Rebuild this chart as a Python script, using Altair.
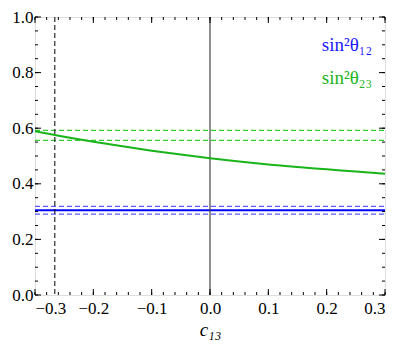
import altair as alt
import pandas as pd

# green curve sin^2 theta_23 vs c13
c13 = [-0.3, -0.25, -0.2, -0.15, -0.1, -0.05, 0.0, 0.05, 0.1, 0.15, 0.2, 0.25, 0.3]
s23 = [0.589, 0.569, 0.551, 0.535, 0.519, 0.505, 0.492, 0.480, 0.469, 0.460, 0.452, 0.444, 0.436]
# blue constant sin^2 theta_12
s12_central = 0.305
s12_band = [0.291, 0.319]
s23_band = [0.556, 0.592]
vline_dashed = -0.266
vline_solid = 0.0

x_major = [-0.3, -0.2, -0.1, 0.0, 0.1, 0.2, 0.3]
x_minor = [round(-0.3 + 0.02 * i, 2) for i in range(31)]
y_major = [0.0, 0.2, 0.4, 0.6, 0.8, 1.0]
y_minor = [round(0.05 * i, 2) for i in range(21)]

W, H = 350, 278
FONT = "Liberation Serif"
xs = alt.Scale(domain=[-0.3, 0.3], nice=False, zero=False)
ys = alt.Scale(domain=[0, 1], nice=False, zero=False)

curve_df = pd.DataFrame({"c13": c13, "s23": s23})
base = alt.Chart(curve_df)

xaxis = alt.Axis(values=x_major, format=".1f", ticks=False, domain=False, grid=False,
                 labelFont=FONT, labelFontSize=17, labelColor="black", labelPadding=5,
                 title="c₁₃", titleFont=FONT, titleFontSize=19, titleFontStyle="italic",
                 titleFontWeight="normal", titleColor="black", titlePadding=4)
yaxis = alt.Axis(values=y_major, format=".1f", ticks=False, domain=False, grid=False,
                 labelFont=FONT, labelFontSize=17, labelColor="black", labelPadding=2,
                 title=None)

green = base.mark_line(color="#19b419", strokeWidth=2, interpolate="monotone").encode(
    x=alt.X("c13:Q", scale=xs, axis=xaxis),
    y=alt.Y("s23:Q", scale=ys, axis=yaxis),
)

hdf = pd.DataFrame({
    "y": s12_band + s23_band,
    "c": ["#5a5aff", "#5a5aff", "#33cc33", "#33cc33"],
})
hdash = alt.Chart(hdf).mark_rule(strokeWidth=1.2, strokeDash=[5, 3]).encode(
    y=alt.Y("y:Q", scale=ys), x=alt.value(0), x2=alt.value(W),
    color=alt.Color("c:N", scale=None),
)
blue = alt.Chart(pd.DataFrame({"y": [s12_central]})).mark_rule(color="#0000ff", strokeWidth=2).encode(
    y=alt.Y("y:Q", scale=ys), x=alt.value(0), x2=alt.value(W)
)
vdash = alt.Chart(pd.DataFrame({"x": [vline_dashed]})).mark_rule(color="black", strokeWidth=1, strokeDash=[5, 3]).encode(
    x=alt.X("x:Q", scale=xs), y=alt.value(0), y2=alt.value(H)
)
vsolid = alt.Chart(pd.DataFrame({"x": [vline_solid]})).mark_rule(color="#444444", strokeWidth=1.2).encode(
    x=alt.X("x:Q", scale=xs), y=alt.value(0), y2=alt.value(H)
)

def xticks(vals, L):
    d = pd.DataFrame({"x": vals})
    b = alt.Chart(d).mark_rule(color="black", strokeWidth=1)
    return [
        b.encode(x=alt.X("x:Q", scale=xs), y=alt.value(H), y2=alt.value(H - L)),
        b.encode(x=alt.X("x:Q", scale=xs), y=alt.value(0), y2=alt.value(L)),
    ]

def yticks(vals, L):
    d = pd.DataFrame({"y": vals})
    b = alt.Chart(d).mark_rule(color="black", strokeWidth=1)
    return [
        b.encode(y=alt.Y("y:Q", scale=ys), x=alt.value(0), x2=alt.value(L)),
        b.encode(y=alt.Y("y:Q", scale=ys), x=alt.value(W), x2=alt.value(W - L)),
    ]

ticks = xticks(x_minor, 3) + xticks(x_major, 6) + yticks(y_minor, 3) + yticks(y_major, 6)

labels = alt.Chart(pd.DataFrame({
    "t": ["sin²θ₁₂", "sin²θ₂₃"],
    "py": [34, 67],
    "c": ["#1a1aff", "#22b422"],
})).mark_text(font=FONT, fontSize=19, align="right", baseline="alphabetic").encode(
    text="t:N", x=alt.value(337), y=alt.Y("py:Q", scale=None),
    color=alt.Color("c:N", scale=None),
)

chart = alt.layer(hdash, blue, vdash, vsolid, green, *ticks, labels).properties(
    width=W, height=H,
    autosize=alt.AutoSizeParams(type="none"),
    padding={"left": 27, "top": 9, "right": 6, "bottom": 48},
).configure_view(stroke="black", strokeWidth=1.3).configure(background="white", font=FONT)

chart.save("out.html", embed_options={"renderer": "svg", "actions": False})
